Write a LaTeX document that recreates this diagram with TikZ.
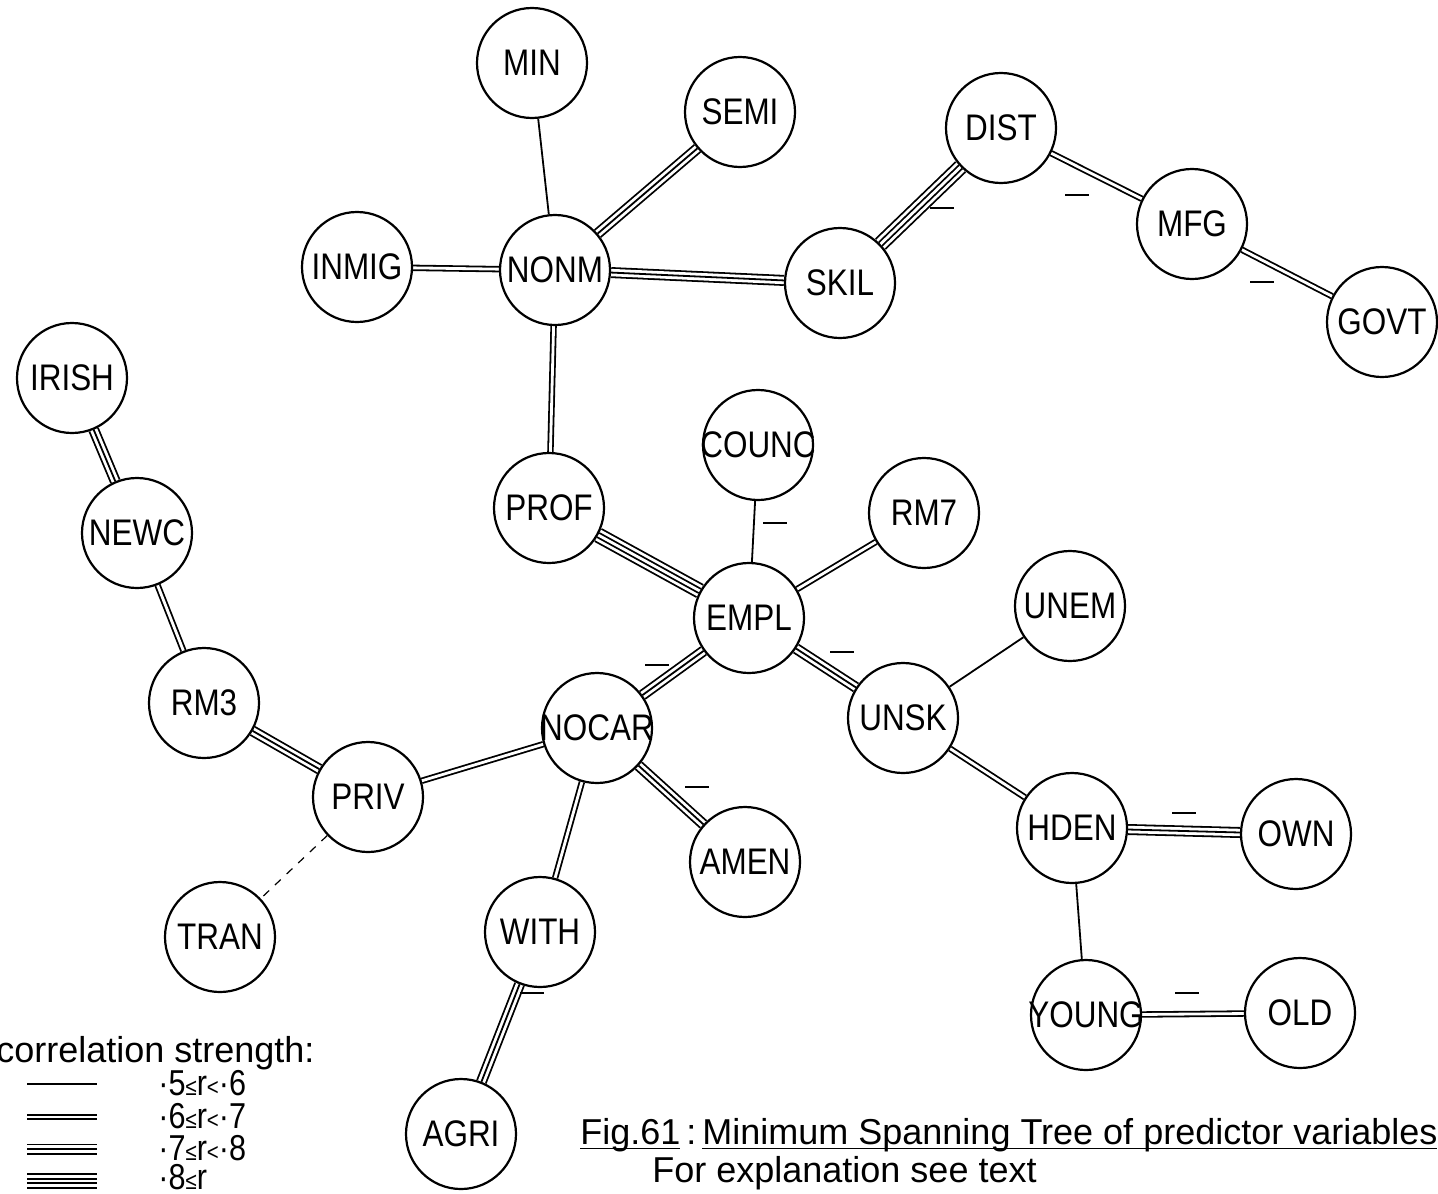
\documentclass[tikz,border=0pt]{standalone}
\usepackage{fontspec}
\setmainfont{Liberation Sans}
\newfontfamily\nf[FakeStretch=0.85]{Liberation Sans}
\usetikzlibrary{backgrounds}
\newcommand{\lbl}[1]{\makebox[0pt][c]{#1}}
\newcommand{\smallrel}[1]{{\fontsize{12}{12}\selectfont #1}}
\newcommand{\ulin}[1]{\setbox0\hbox{#1}\rlap{\rule[-2.6pt]{\wd0}{0.8pt}}\box0}
\begin{document}
\begin{tikzpicture}[x=0.5pt,y=-0.5pt,
  var/.style={circle, draw, line width=1.1pt, fill=white, minimum size=55pt, inner sep=0pt,
    font=\nf\fontsize{18.5}{18.5}\selectfont},
  single/.style={line width=0.9pt},
  dbl/.style={line width=0.9pt, double=white, double distance=1.4pt},
  trpl/.style={preaction={draw=black, line width=5.5pt}, preaction={draw=white, line width=3.7pt}, draw=black, line width=0.9pt},
  quad/.style={preaction={draw=black, line width=7.8pt}, preaction={draw=white, line width=6.0pt}, preaction={draw=black, line width=3.2pt}, draw=white, line width=1.4pt},
  weak/.style={dashed, line width=0.6pt, dash pattern=on 4pt off 4pt},
  neg/.style={rectangle, fill=black, inner sep=0pt, minimum width=12pt, minimum height=1.1pt},
  txt/.style={inner sep=0pt, font=\fontsize{18}{18}\selectfont},
  legtxt/.style={inner sep=0pt, font=\nf\fontsize{18}{18}\selectfont}
]
\useasboundingbox (0,0) rectangle (1438,1193);

% nodes
\node[var] (MIN)   at (532,63)   {\lbl{MIN}};
\node[var] (SEMI)  at (740,112)  {\lbl{SEMI}};
\node[var] (DIST)  at (1001,128) {\lbl{DIST}};
\node[var] (INMIG) at (357,267)  {\lbl{INMIG}};
\node[var] (NONM)  at (555,270)  {\lbl{NONM}};
\node[var] (SKIL)  at (840,283)  {\lbl{SKIL}};
\node[var] (MFG)   at (1192,224) {\lbl{MFG}};
\node[var] (GOVT)  at (1382,322) {\lbl{GOVT}};
\node[var] (IRISH) at (72,378)   {\lbl{IRISH}};
\node[var] (NEWC)  at (137,533)  {\lbl{NEWC}};
\node[var] (PROF)  at (549,508)  {\lbl{PROF}};
\node[var] (COUNC) at (758,445)  {\lbl{COUNC}};
\node[var] (RM7)   at (924,513)  {\lbl{RM7}};
\node[var] (EMPL)  at (749,618)  {\lbl{EMPL}};
\node[var] (UNEM)  at (1070,606) {\lbl{UNEM}};
\node[var] (RM3)   at (204,703)  {\lbl{RM3}};
\node[var] (NOCAR) at (597,728)  {\lbl{NOCAR}};
\node[var] (UNSK)  at (903,718)  {\lbl{UNSK}};
\node[var] (PRIV)  at (368,797)  {\lbl{PRIV}};
\node[var] (HDEN)  at (1072,828) {\lbl{HDEN}};
\node[var] (OWN)   at (1296,834) {\lbl{OWN}};
\node[var] (AMEN)  at (745,862)  {\lbl{AMEN}};
\node[var] (TRAN)  at (220,937)  {\lbl{TRAN}};
\node[var] (WITH)  at (540,932)  {\lbl{WITH}};
\node[var] (YOUNG) at (1086,1015) {\lbl{YOUNG}};
\node[var] (OLD)   at (1300,1013) {\lbl{OLD}};
\node[var] (AGRI)  at (461,1134) {\lbl{AGRI}};

% connectors
\begin{scope}[on background layer]
\draw[single] (MIN) -- (NONM);
\draw[trpl] (SEMI) -- (NONM);
\draw[dbl] (INMIG) -- (NONM);
\draw[trpl] (NONM) -- (SKIL);
\draw[quad] (SKIL) -- (DIST);
\draw[dbl] (DIST) -- (MFG);
\draw[dbl] (MFG) -- (GOVT);
\draw[dbl] (NONM) -- (PROF);
\draw[trpl] (IRISH) -- (NEWC);
\draw[dbl] (NEWC) -- (RM3);
\draw[trpl] (RM3) -- (PRIV);
\draw[dbl] (PRIV) -- (NOCAR);
\draw[weak] (PRIV) -- (TRAN);
\draw[quad] (PROF) -- (EMPL);
\draw[single] (COUNC) -- (EMPL);
\draw[dbl] (RM7) -- (EMPL);
\draw[trpl] (EMPL) -- (NOCAR);
\draw[trpl] (EMPL) -- (UNSK);
\draw[single] (UNSK) -- (UNEM);
\draw[dbl] (UNSK) -- (HDEN);
\draw[trpl] (HDEN) -- (OWN);
\draw[single] (HDEN) -- (YOUNG);
\draw[dbl] (YOUNG) -- (OLD);
\draw[dbl] (NOCAR) -- (WITH);
\draw[trpl] (NOCAR) -- (AMEN);
\draw[trpl] (WITH) -- (AGRI);
\end{scope}

% negative-correlation marks
\node[neg] (n1)  at (942,208)  {};
\node[neg] (n2)  at (1077,195) {};
\node[neg] (n3)  at (1262,282) {};
\node[neg] (n4)  at (775,523)  {};
\node[neg] (n5)  at (657,665)  {};
\node[neg] (n6)  at (842,652)  {};
\node[neg] (n7)  at (697,787)  {};
\node[neg] (n8)  at (532,993)  {};
\node[neg] (n9)  at (1184,813) {};
\node[neg] (n10) at (1187,993) {};

% legend
\node[txt, anchor=base west] (legtitle) at (-4,1062) {correlation strength:};
\coordinate (l1a) at (27,1084); \coordinate (l1b) at (97,1084);
\coordinate (l2a) at (27,1117); \coordinate (l2b) at (97,1117);
\coordinate (l3a) at (27,1149); \coordinate (l3b) at (97,1149);
\coordinate (l4a) at (27,1181); \coordinate (l4b) at (97,1181);
\draw[single] (l1a) -- (l1b);
\draw[dbl] (l2a) -- (l2b);
\draw[trpl] (l3a) -- (l3b);
\draw[quad] (l4a) -- (l4b);
\node[legtxt, anchor=base west] (r1) at (158,1095) {·5\smallrel{≤}r\smallrel{<}·6};
\node[legtxt, anchor=base west] (r2) at (158,1128) {·6\smallrel{≤}r\smallrel{<}·7};
\node[legtxt, anchor=base west] (r3) at (158,1160) {·7\smallrel{≤}r\smallrel{<}·8};
\node[legtxt, anchor=base west] (r4) at (158,1189) {·8\smallrel{≤}r};

% caption
\node[txt, anchor=base west] (cap1) at (580,1144) {\ulin{Fig.61}\,:\,\ulin{Minimum Spanning Tree of predictor variables}};
\node[txt, anchor=base west] (cap2) at (652,1182) {For explanation see text};
\end{tikzpicture}
\end{document}
